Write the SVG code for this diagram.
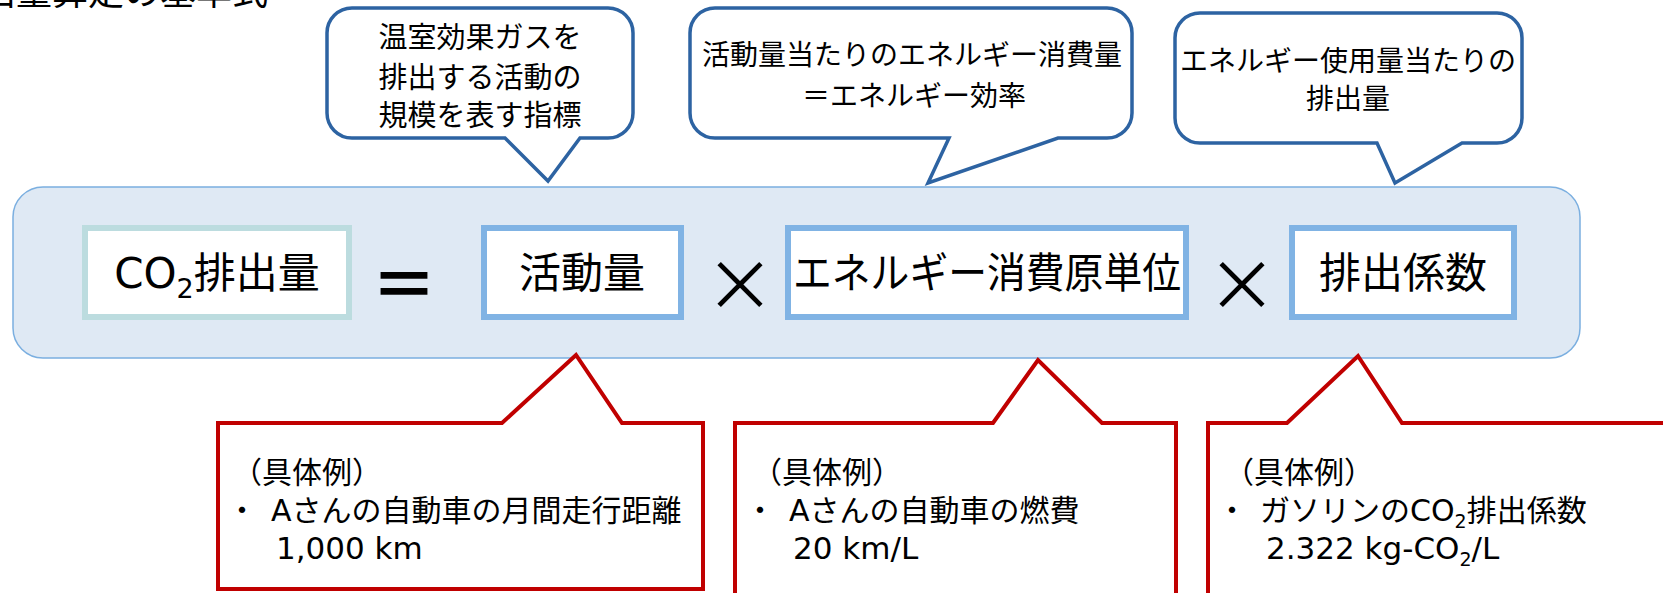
<svg xmlns="http://www.w3.org/2000/svg" width="1663" height="593" viewBox="0 0 1663 593">
  <style>
    .jp { font-family: "Noto Sans CJK JP", sans-serif; fill: #000; }
    .mix { font-family: "DejaVu Sans", "Noto Sans CJK JP", sans-serif; fill: #000; }
    .blue { fill: #fff; stroke: #2d63a2; stroke-width: 3.5; stroke-linejoin: miter; }
    .red { fill: #fff; stroke: #c00000; stroke-width: 4; stroke-linejoin: miter; }
    .box { fill: #fff; stroke: #80b3e4; stroke-width: 6; }
    .co2box { fill: #fff; stroke: #bcdcdf; stroke-width: 6; }
    .top { font-size: 28px; text-anchor: middle; }
    .main { font-size: 42px; }
    .ex { font-size: 30px; }
  </style>

  <g id="title">
    <text class="jp" x="268" y="5" font-size="36" text-anchor="end">出量算定の基準式</text>
  </g>

  <g id="panel">
    <rect x="13" y="187" width="1567" height="171" rx="30" ry="30" fill="#dfe9f4" stroke="#7bafe0" stroke-width="1.5"/>
  </g>

  <g id="callout-activity">
    <path class="blue" d="M 352 8 H 608 A 25 25 0 0 1 633 33 V 113 A 25 25 0 0 1 608 138 H 580 L 548 181 L 505 138 H 352 A 25 25 0 0 1 327 113 V 33 A 25 25 0 0 1 352 8 Z"/>
    <text class="jp top" x="480" y="48" style="font-size:29px">温室効果ガスを</text>
    <text class="jp top" x="480" y="88" style="font-size:29px">排出する活動の</text>
    <text class="jp top" x="480" y="126" style="font-size:29px">規模を表す指標</text>
  </g>

  <g id="callout-intensity">
    <path class="blue" d="M 715 8 H 1107 A 25 25 0 0 1 1132 33 V 113 A 25 25 0 0 1 1107 138 H 1058 L 928 183 L 949 138 H 715 A 25 25 0 0 1 690 113 V 33 A 25 25 0 0 1 715 8 Z"/>
    <text class="jp top" x="912" y="65">活動量当たりのエネルギー消費量</text>
    <text class="jp top" x="914" y="106">＝エネルギー効率</text>
  </g>

  <g id="callout-factor">
    <path class="blue" d="M 1200 13 H 1497 A 25 25 0 0 1 1522 38 V 118 A 25 25 0 0 1 1497 143 H 1462 L 1395 183 L 1377 143 H 1200 A 25 25 0 0 1 1175 118 V 38 A 25 25 0 0 1 1200 13 Z"/>
    <text class="jp top" x="1348" y="71">エネルギー使用量当たりの</text>
    <text class="jp top" x="1348" y="109">排出量</text>
  </g>

  <g id="node-co2">
    <rect class="co2box" x="85" y="228" width="264" height="89"/>
    <text class="mix main" x="217" y="288" text-anchor="middle">CO<tspan font-size="27" dy="10">2</tspan><tspan dy="-10">排出量</tspan></text>
  </g>

  <g id="op-eq">
    <text class="jp" x="404" y="280" font-size="66" font-weight="bold" text-anchor="middle" dominant-baseline="central">＝</text>
  </g>

  <g id="node-activity">
    <rect class="box" x="484" y="228" width="197" height="89"/>
    <text class="jp main" x="582" y="288" text-anchor="middle">活動量</text>
  </g>

  <g id="op-x1">
    <text class="jp" x="740" y="280" font-size="70" text-anchor="middle" dominant-baseline="central">×</text>
  </g>

  <g id="node-intensity">
    <rect class="box" x="788" y="228" width="398" height="89"/>
    <text class="jp main" x="793" y="288" textLength="388" lengthAdjust="spacingAndGlyphs">エネルギー消費原単位</text>
  </g>

  <g id="op-x2">
    <text class="jp" x="1242" y="280" font-size="70" text-anchor="middle" dominant-baseline="central">×</text>
  </g>

  <g id="node-factor">
    <rect class="box" x="1292" y="228" width="222" height="89"/>
    <text class="jp main" x="1403" y="288" text-anchor="middle">排出係数</text>
  </g>

  <g id="example-activity">
    <path class="red" d="M 218 423 H 502 L 576 355 L 622 423 H 703 V 589 H 218 Z"/>
    <text class="mix ex" x="232" y="483">（具体例）</text>
    <text class="mix ex" x="227" y="521">・</text>
    <text class="mix ex" x="271" y="521">Aさんの自動車の月間走行距離</text>
    <text class="mix ex" x="276" y="559" style="font-size:31px">1,000 km</text>
  </g>

  <g id="example-intensity">
    <path class="red" d="M 735 423 H 993 L 1038 360 L 1102 423 H 1176 V 605 H 735 Z"/>
    <text class="mix ex" x="752" y="483">（具体例）</text>
    <text class="mix ex" x="745" y="521">・</text>
    <text class="mix ex" x="789" y="521">Aさんの自動車の燃費</text>
    <text class="mix ex" x="793" y="559" style="font-size:31px">20 km/L</text>
  </g>

  <g id="example-factor">
    <path class="red" d="M 1208 423 H 1287 L 1358 356 L 1402 423 H 1675 V 605 H 1208 Z"/>
    <text class="mix ex" x="1224" y="483">（具体例）</text>
    <text class="mix ex" x="1217" y="521">・</text>
    <text class="mix ex" x="1260" y="521">ガソリンのCO<tspan font-size="19" dy="7">2</tspan><tspan dy="-7">排出係数</tspan></text>
    <text class="mix ex" x="1266" y="559" style="font-size:31px">2.322 kg-CO<tspan font-size="19" dy="7">2</tspan><tspan dy="-7">/L</tspan></text>
  </g>
</svg>
